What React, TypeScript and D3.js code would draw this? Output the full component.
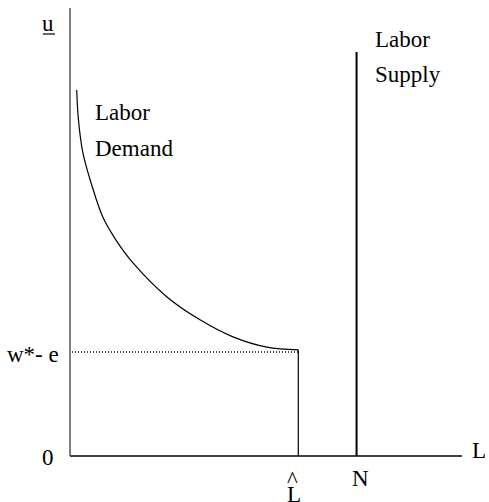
import React from "react";
import * as d3 from "d3";

const W = 489;
const H = 502;

// Labor demand curve (x: labor units, y: wage units)
const demandX = [1.71, 2.12, 3.24, 5.54, 8.49, 11.73, 16.07, 24.74, 33.16, 41.58, 50.26, 58.24];
const demandY = [81.7, 75.4, 67.9, 60.5, 53.1, 48.2, 43.1, 35.5, 30.4, 26.6, 24.3, 23.7];

const laborSupplyN = 73.1;
const supplyTop = 90.2;
const lHat = 58.24;
const wageLevel = 23.2;
const yAxisTop = 100;
const xAxisEnd = 100;

const labelsDemand = ["Labor", "Demand"];
const labelsSupply = ["Labor", "Supply"];

export default function App() {
  const x = d3.scaleLinear().domain([0, 100]).range([70, 462]);
  const y = d3.scaleLinear().domain([0, 100]).range([456, 8]);

  const pts: [number, number][] = demandX.map((d, i) => [d, demandY[i]]);
  const line = d3
    .line<[number, number]>()
    .x((d) => x(d[0]))
    .y((d) => y(d[1]))
    .curve(d3.curveCatmullRom.alpha(0.5));

  const font = "'Liberation Serif', 'Times New Roman', serif";
  const fs = 23;

  return (
    <svg
      width={W}
      height={H}
      style={{ position: "absolute", left: 0, top: 0, background: "#fff" }}
    >
      {/* axes */}
      <line x1={x(0)} y1={y(0)} x2={x(0)} y2={y(yAxisTop)} stroke="#808080" strokeWidth={2} />
      <line x1={x(0)} y1={y(0)} x2={x(xAxisEnd)} y2={y(0)} stroke="#444" strokeWidth={2} />

      {/* dotted wage line */}
      <line
        x1={x(0) + 2}
        y1={y(wageLevel)}
        x2={x(lHat)}
        y2={y(wageLevel)}
        stroke="#000"
        strokeWidth={1.5}
        strokeDasharray="1,2"
      />

      {/* L hat vertical */}
      <line x1={x(lHat)} y1={y(0)} x2={x(lHat)} y2={y(demandY[demandY.length - 1])} stroke="#000" strokeWidth={1.2} />

      {/* Labor demand curve */}
      <path d={line(pts) || ""} fill="none" stroke="#000" strokeWidth={1.2} />

      {/* Labor supply */}
      <line x1={x(laborSupplyN)} y1={y(0)} x2={x(laborSupplyN)} y2={y(supplyTop)} stroke="#000" strokeWidth={2} />

      <g fontFamily={font} fontSize={fs} fill="#000">
        <text x={42} y={31}>u</text>
        <line x1={43} y1={34} x2={55} y2={34} stroke="#000" strokeWidth={1.2} />
        <text x={95} y={120}>{labelsDemand[0]}</text>
        <text x={95} y={156}>{labelsDemand[1]}</text>
        <text x={375} y={47}>{labelsSupply[0]}</text>
        <text x={375} y={82}>{labelsSupply[1]}</text>
        <text x={7} y={362}>w*- e</text>
        <text x={42} y={465}>0</text>
        <text x={472} y={458}>L</text>
        <text x={352} y={486}>N</text>
        <text x={287} y={487}>^</text>
        <text x={287} y={502}>L</text>
      </g>
    </svg>
  );
}
